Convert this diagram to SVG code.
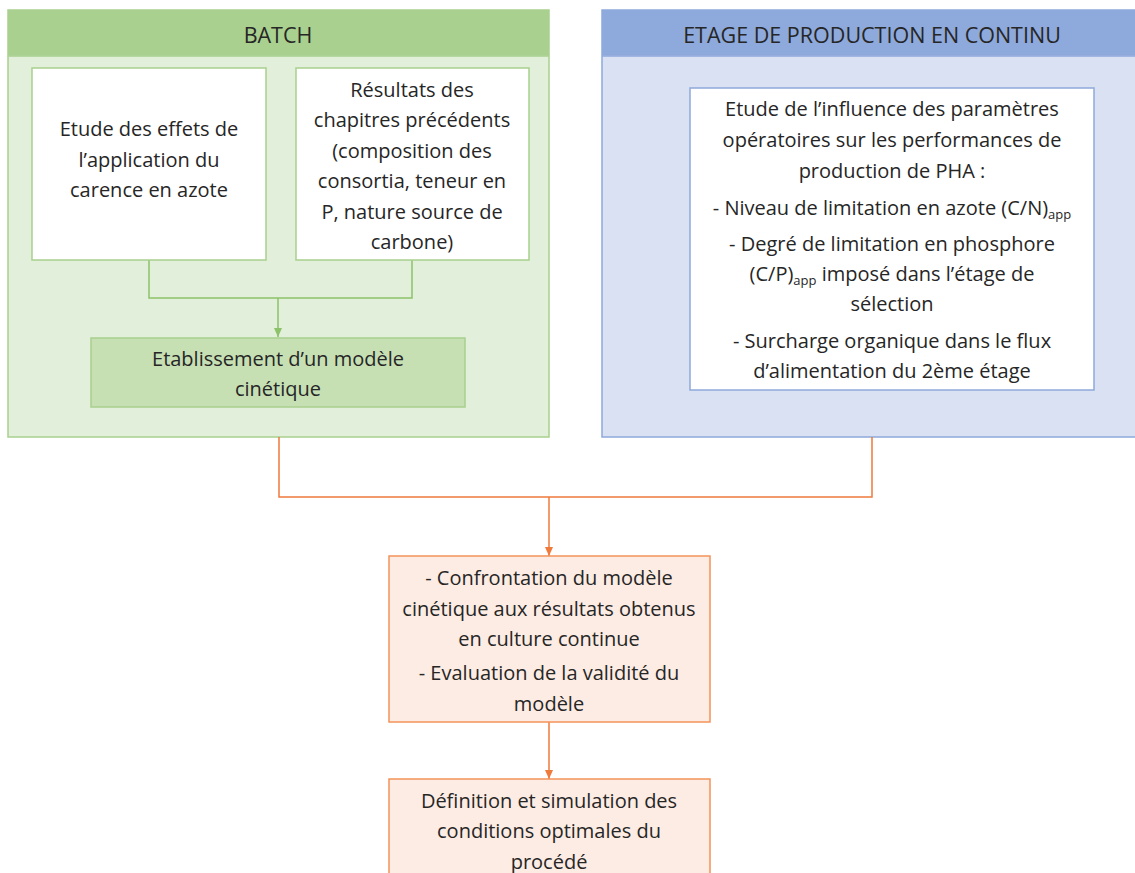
<svg xmlns="http://www.w3.org/2000/svg" width="1135" height="873" viewBox="0 0 1135 873">
<style>
text{font-family:"Open Sans","Noto Sans","Liberation Sans",sans-serif;font-size:20px;fill:#262626;text-anchor:middle}
.hd{font-size:21.5px}
.gh{fill:#A9D08E;stroke:#A9D08E;stroke-width:1.5}
.gb{fill:#E2EFDA;stroke:#A9D08E;stroke-width:1.5}
.gw{fill:#FFFFFF;stroke:#A9D08E;stroke-width:1.5}
.gk{fill:#C6E0B4;stroke:#A9D08E;stroke-width:1.5}
.bh{fill:#8EA9DB;stroke:#8EA9DB;stroke-width:1.5}
.bb{fill:#D9E1F2;stroke:#8EA9DB;stroke-width:1.5}
.bw{fill:#FFFFFF;stroke:#8EA9DB;stroke-width:1.5}
.ob{fill:#FDECE3;stroke:#F4935A;stroke-width:1.5}
.gl{fill:none;stroke:#8CC26A;stroke-width:1.5}
.ol{fill:none;stroke:#F07A3C;stroke-width:1.5}
.sub{font-size:13px}
</style>
<defs>
<marker id="ag" markerWidth="10" markerHeight="10" refX="9" refY="5" orient="auto" markerUnits="userSpaceOnUse"><path d="M0,1 L9,5 L0,9 Z" fill="#8CC26A"/></marker>
<marker id="ao" markerWidth="10" markerHeight="10" refX="9" refY="5" orient="auto" markerUnits="userSpaceOnUse"><path d="M0,1 L9,5 L0,9 Z" fill="#F07A3C"/></marker>
</defs>
<rect width="1135" height="873" fill="#FFFFFF"/>
<g id="batch">
<rect class="gb" x="8" y="56" width="541" height="381"/>
<rect class="gh" x="8" y="10" width="541" height="45"/>
<text class="hd" x="278" y="43">BATCH</text>
</g>
<g id="continu">
<rect class="bb" x="602" y="56" width="545" height="381"/>
<rect class="bh" x="602" y="10" width="545" height="45"/>
<text class="hd" x="872" y="43">ETAGE DE PRODUCTION EN CONTINU</text>
</g>
<g id="connectors">
<path class="gl" d="M149,260 V298 H412 V260"/>
<path class="gl" d="M278,298 V337" marker-end="url(#ag)"/>
<path class="ol" d="M279,437 V497 H872 V437"/>
<path class="ol" d="M549,497 V556" marker-end="url(#ao)"/>
<path class="ol" d="M549,722 V779" marker-end="url(#ao)"/>
</g>
<g id="etude-azote">
<rect class="gw" x="32" y="68" width="234" height="192"/>
<text x="149" y="136">Etude des effets de</text>
<text x="149" y="167">l’application du</text>
<text x="149" y="197">carence en azote</text>
</g>
<g id="resultats">
<rect class="gw" x="296" y="68" width="233" height="192"/>
<text x="412" y="97">Résultats des</text>
<text x="412" y="127">chapitres précédents</text>
<text x="412" y="158">(composition des</text>
<text x="412" y="188">consortia, teneur en</text>
<text x="412" y="219">P, nature source de</text>
<text x="412" y="249">carbone)</text>
</g>
<g id="modele">
<rect class="gk" x="91" y="338" width="374" height="69"/>
<text x="278" y="366">Etablissement d’un modèle</text>
<text x="278" y="396">cinétique</text>
</g>
<g id="influence">
<rect class="bw" x="690" y="88" width="404" height="302"/>
<text x="892" y="116">Etude de l’influence des paramètres</text>
<text x="892" y="147">opératoires sur les performances de</text>
<text x="892" y="178">production de PHA :</text>
<text x="892" y="215">- Niveau de limitation en azote (C/N)<tspan class="sub" dy="4">app</tspan></text>
<text x="892" y="251">- Degré de limitation en phosphore</text>
<text x="892" y="281">(C/P)<tspan class="sub" dy="4">app</tspan><tspan dy="-4"> imposé dans l’étage de</tspan></text>
<text x="892" y="311">sélection</text>
<text x="892" y="348">- Surcharge organique dans le flux</text>
<text x="892" y="378">d’alimentation du 2ème étage</text>
</g>
<g id="confrontation">
<rect class="ob" x="389" y="556" width="321" height="166"/>
<text x="549" y="585">- Confrontation du modèle</text>
<text x="549" y="616">cinétique aux résultats obtenus</text>
<text x="549" y="646">en culture continue</text>
<text x="549" y="680">- Evaluation de la validité du</text>
<text x="549" y="711">modèle</text>
</g>
<g id="definition">
<rect class="ob" x="389" y="779" width="321" height="110"/>
<text x="549" y="808">Définition et simulation des</text>
<text x="549" y="838">conditions optimales du</text>
<text x="549" y="869">procédé</text>
</g>
</svg>
